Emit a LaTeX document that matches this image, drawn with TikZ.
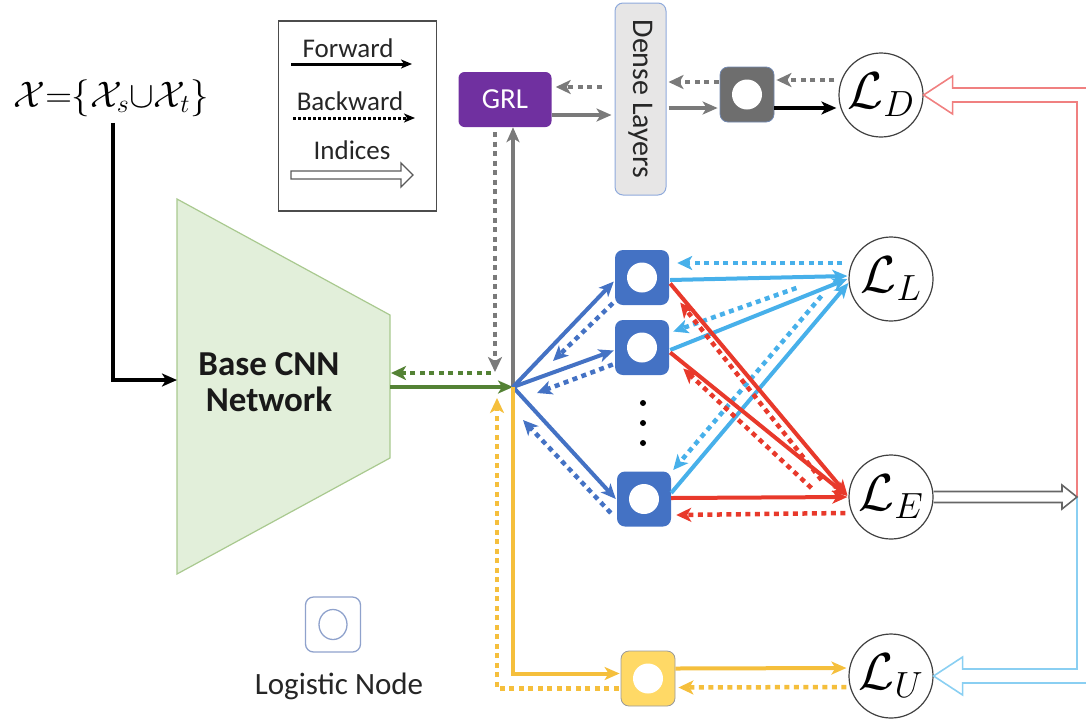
\documentclass[tikz,border=0pt]{standalone}
\usepackage{fix-cm}
\usepackage[no-math]{fontspec}
\setmainfont{Carlito}
\usetikzlibrary{arrows.meta,calc}

\definecolor{cnnfill}{HTML}{E2EFDA}
\definecolor{cnnline}{HTML}{A9C98F}
\definecolor{cnngreen}{HTML}{548235}
\definecolor{grlpurple}{HTML}{7030A0}
\definecolor{flowgray}{HTML}{7A7A7A}
\definecolor{densefill}{HTML}{E7E6E6}
\definecolor{denseline}{HTML}{8FAADC}
\definecolor{nodeblue}{HTML}{4472C4}
\definecolor{skyblue}{HTML}{47B0EA}
\definecolor{lossred}{HTML}{E8392B}
\definecolor{gold}{HTML}{F5BF3C}
\definecolor{goldfill}{HTML}{FFD966}
\definecolor{idxred}{HTML}{F08080}
\definecolor{idxblue}{HTML}{8ACFF2}
\definecolor{nodegray}{HTML}{6E6E6E}
\definecolor{legnodeline}{HTML}{8FA2CC}

\begin{document}
\begin{tikzpicture}[x=1pt,y=-1pt,
  lbl/.style={font=\fontsize{27}{27}\selectfont, text=black!85},
  fwd/.style={line width=4pt, -{Stealth[length=15pt,width=13pt,inset=4pt]}},
  bwd/.style={line width=4.5pt, dash pattern=on 5pt off 4.5pt,
    -{Stealth[length=15pt,width=14pt,inset=4pt]}},
  lossc/.style={circle, draw=black!75, line width=1.2pt, minimum size=84pt,
    inner sep=0pt, fill=white, font=\fontsize{52}{52}\selectfont},
  lognode/.style={rounded corners=8pt, minimum width=54pt, minimum height=55pt,
    inner sep=0pt,
    path picture={\fill[white] (path picture bounding box.center)
      ellipse [x radius=15pt, y radius=15pt];}},
  idx/.style={line width=1.6pt, line join=miter},
]
\useasboundingbox (0,0) rectangle (1086,721);
\clip (0,0) rectangle (1086,721);

% ---- input set and legend ----
\node[font=\fontsize{37}{37}\selectfont, anchor=base] (X) at (111,107)
  {$\mathcal{X}{=}\{\mathcal{X}_s{\cup}\mathcal{X}_t\}$};

\node[draw=black!70, line width=1.3pt, minimum width=158pt, minimum height=190pt]
  (leg) at (357.5,116) {};
\node[lbl, anchor=base] (legF) at (348,57) {Forward};
\node[lbl, anchor=base] (legB) at (350,110) {Backward};
\node[lbl, anchor=base] (legI) at (352,159) {Indices};
\coordinate (lf1) at (291,64);  \coordinate (lf2) at (412,64);
\coordinate (lb1) at (293,118); \coordinate (lb2) at (415,118);
\draw[line width=3pt, -{Stealth[length=11pt,width=9pt,inset=3pt]}] (lf1) -- (lf2);
\draw[line width=3pt, dash pattern=on 2.5pt off 2.5pt,
  -{Stealth[length=11pt,width=9pt,inset=3pt]}] (lb1) -- (lb2);
\draw[black!65, line width=1.3pt, line join=miter]
  (291,171) -- (401,171) -- (401,163) -- (413,175) -- (401,187) -- (401,179) -- (291,179) -- cycle;

% ---- base network ----
\draw[fill=cnnfill, draw=cnnline, line width=1.2pt]
  (177,199) -- (390,315) -- (390,458) -- (177,574) -- cycle;
\node[font=\bfseries\fontsize{35}{36}\selectfont, align=center, text=black!90]
  (cnn) at (269,382) {Base CNN\\Network};
\coordinate (cnnIn) at (177,380);
\coordinate (cnnOut) at (390,387);
\coordinate (J) at (513,387);

\draw[line width=4pt, -{Stealth[length=15pt,width=13pt,inset=4pt]}]
  ($(X.south)+(2,3)$) |- (cnnIn);

\draw[fwd, cnngreen] (cnnOut) -- (J);
\coordinate (gbkA) at (491,373);
\coordinate (gbkB) at (391,373);
\draw[bwd, cnngreen] (gbkA) -- (gbkB);

% ---- domain branch ----
\node[fill=grlpurple, rounded corners=6pt, minimum width=93pt, minimum height=55pt,
  text=white, font=\fontsize{29}{29}\selectfont] (GRL) at (505,99.5) {GRL};
\node[fill=densefill, draw=denseline, line width=1pt, rounded corners=8pt,
  minimum width=192pt, minimum height=51pt, inner sep=0pt, rotate=-90,
  font=\fontsize{30}{30}\selectfont, text=black!85] (DL) at (640.5,99) {Dense Layers};
\node[lognode, fill=nodegray, draw=denseline!80!black, line width=0.8pt] (G) at (747,94.5) {};
\node[lossc] (LD) at (881,95) {$\mathcal{L}_D$};

\draw[bwd, flowgray] ($(DL.south)+(-13,-12)$) -- ($(GRL.east)+(4,-12.5)$);
\draw[fwd, flowgray] ($(GRL.east)+(0,15.5)$) -- ($(DL.south)+(-3,16)$);
\draw[bwd, flowgray] ($(G.west)+(-1,-12.5)$) -- ($(DL.north)+(2,-17)$);
\draw[fwd, flowgray] ($(DL.north)+(2,9)$) -- ($(G.west)+(-2,13.5)$);
\draw[bwd, flowgray] ($(LD.west)+(-4,-15)$) -- ($(G.east)+(2,-14.5)$);
\draw[fwd, black] ($(G.east)+(0,13.5)$) -- ($(LD.west)+(-2,13)$);

\draw[fwd, flowgray] (J) -- (J |- GRL.south);
\coordinate (grlBk) at (495,372);
\draw[bwd, flowgray] ($(GRL.south)+(-10,5)$) -- (grlBk);

% ---- classifier nodes ----
\node[lognode, fill=nodeblue] (B1) at (642,277.5) {};
\node[lognode, fill=nodeblue] (B2) at (642,347.5) {};
\node[lognode, fill=nodeblue] (B3) at (644,499) {};
\foreach \yy in {403,423,443} \fill (643,\yy) circle (3pt);

\node[lossc] (LL) at (891,279) {$\mathcal{L}_L$};
\node[lossc] (LE) at (891,497) {$\mathcal{L}_E$};

\draw[fwd, nodeblue] (J) -- ($(B1.west)+(-1,4)$);
\draw[fwd, nodeblue] (J) -- ($(B2.west)+(-1,3)$);
\draw[fwd, nodeblue] (J) -- ($(B3.west)+(-1,0)$);
\coordinate (bk1) at (553,361);
\coordinate (bk2) at (537,393);
\coordinate (bk3) at (523,420);
\draw[bwd, nodeblue] ($(B1.south west)+(-2,-2)$) -- (bk1);
\draw[bwd, nodeblue] ($(B2.west)+(-2,17)$) -- (bk2);
\draw[bwd, nodeblue] ($(B3.west)+(-6,14)$) -- (bk3);

% labelled loss
\draw[fwd, skyblue] ($(B1.east)+(1,2.5)$) -- ($(LL.west)+(-1,-3)$);
\draw[fwd, skyblue] ($(B2.east)+(1,2.5)$) -- ($(LL.west)+(-1,0)$);
\draw[fwd, skyblue] ($(B3.east)+(0,-6)$) -- ($(LL.west)+(0,4)$);
\draw[bwd, skyblue] ($(LL.west)+(-6,-16)$) -- ($(B1.east)+(8,-14.5)$);
\draw[bwd, skyblue] ($(LL.west)+(-52,9)$) -- ($(B2.east)+(4,-16)$);
\draw[bwd, skyblue] ($(LL.west)+(-27,17)$) -- ($(B3.east)+(2,-29)$);

% entropy loss
\draw[fwd, lossred] ($(B1.east)+(1,6)$) -- ($(LE.west)+(-1,-2)$);
\draw[fwd, lossred] ($(B2.east)+(1,5)$) -- ($(LE.west)+(-1,-1)$);
\draw[fwd, lossred] ($(B3.east)+(0,-1)$) -- ($(LE.west)+(-1,0)$);
\draw[bwd, lossred] ($(LE.west)+(-27,-17)$) -- ($(B1.east)+(11,25)$);
\draw[bwd, lossred] ($(LE.west)+(-37,-9)$) -- ($(B2.east)+(14,21)$);
\draw[bwd, lossred] ($(LE.west)+(-3,16)$) -- ($(B3.east)+(5,16)$);

% ---- unlabelled branch ----
\node[lognode, fill=goldfill, draw=black!40, line width=0.8pt] (Y) at (648,678.5) {};
\node[lossc] (LU) at (891,676) {$\mathcal{L}_U$};
\coordinate (ybk) at (497,398);
\draw[fwd, gold] (J) |- ($(Y.west)+(-1,-5)$);
\draw[bwd, gold] ($(Y.west)+(-2,10)$) -| (ybk);
\draw[fwd, gold] ($(Y.east)+(0,-10)$) -- ($(LU.west)+(-2,-8)$);
\draw[bwd, gold] ($(LU.west)+(-2,11)$) -- ($(Y.east)+(3,9)$);

% ---- index arrows ----
\coordinate (idxTip) at (1077,497);
\draw[idx, idxred] (1100,88) -- ($(LD.east)+(29,-7)$) -- ($(LD.east)+(29,-19)$) -- (LD.east)
  -- ($(LD.east)+(29,19)$) -- ($(LD.east)+(29,7)$) -- (1077,102) -- (idxTip);
\draw[idx, idxblue] (1100,683) -- ($(LU.east)+(29,7)$) -- ($(LU.east)+(29,19)$) -- (LU.east)
  -- ($(LU.east)+(29,-19)$) -- ($(LU.east)+(29,-7)$) -- (1077,669) -- (idxTip);
\draw[idx, black!60] ($(LE.east)+(0,-5.5)$) -- (1062,491.5) -- (1062,485) -- (idxTip)
  -- (1062,509) -- (1062,502.5) -- ($(LE.east)+(0,5.5)$);

% ---- legend node ----
\node[rounded corners=8pt, minimum width=55pt, minimum height=55pt, inner sep=0pt,
  draw=legnodeline, line width=1.3pt,
  path picture={\draw[legnodeline, line width=1.3pt] (path picture bounding box.center)
    ellipse [x radius=14pt, y radius=15pt];}] (legN) at (333,624.5) {};
\node[font=\fontsize{31}{31}\selectfont, text=black!85, anchor=base] (legNt) at (339,694) {Logistic Node};
\end{tikzpicture}
\end{document}
